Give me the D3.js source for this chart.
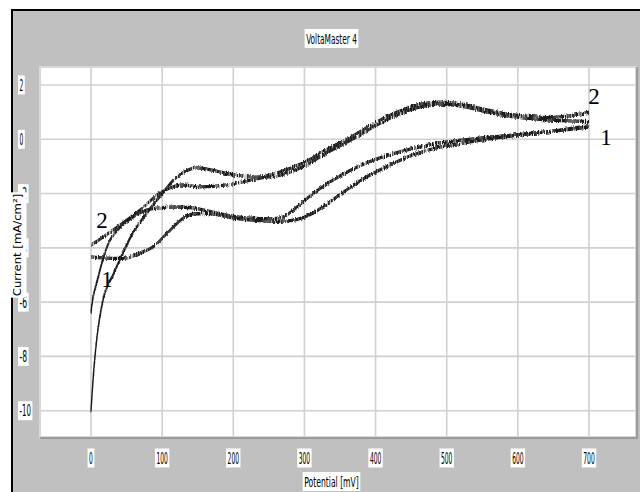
<!DOCTYPE html>
<html>
<head>
<meta charset="utf-8">
<script src="https://cdn.jsdelivr.net/npm/d3@7"></script>
<style>
  html, body { margin: 0; padding: 0; background: #fff; }
  svg { display: block; }
</style>
</head>
<body>
<svg id="chart" width="640" height="492"></svg>
<script>
// Axis ticks
const potentialTicks = [0, 100, 200, 300, 400, 500, 600, 700];
const currentTicks = [2, 0, -2, -4, -6, -8, -10];

// Cyclic voltammetry traces: [potential mV, current mA/cm2]
const sweepA = [[0,-10.0],[2.8,-8.9],[5.6,-8.0],[9.8,-7.0],[14,-6.3],[18,-5.8],[24,-5.35],[31,-5.0],[42,-4.35],[59,-3.45],[79,-2.7],[101,-1.97],[121,-1.38],[143,-1.07],[160,-1.08],[180,-1.2],[205,-1.33],[238,-1.39],[266,-1.2],[300,-0.85],[330,-0.4],[360,0.0],[400,0.62],[430,1.0],[460,1.28],[490,1.37],[520,1.3],[550,1.12],[580,0.95],[610,0.85],[640,0.8],[670,0.85],[700,1.0]];
const sweepB = [[0,-3.9],[17,-3.6],[41,-3.16],[69,-2.61],[97,-1.98],[125,-1.69],[153,-1.75],[191,-1.68],[238,-1.43],[266,-1.32],[300,-0.98],[330,-0.52],[360,-0.1],[400,0.5],[430,0.9],[460,1.18],[490,1.3],[520,1.22],[550,1.05],[580,0.88],[610,0.78],[640,0.72],[670,0.68],[700,0.65]];
const sweepC = [[0,-4.33],[17,-4.37],[51,-4.37],[69,-4.19],[87,-3.97],[107,-3.46],[135,-2.82],[167,-2.74],[200,-2.9],[238,-3.0],[266,-3.02],[290,-2.95],[310,-2.75],[336,-2.3],[360,-1.85],[390,-1.35],[420,-0.95],[450,-0.6],[480,-0.35],[520,-0.15],[560,0.02],[600,0.15],[650,0.3],[700,0.5]];
const sweepD = [[0,-6.4],[3,-5.8],[8,-5.3],[17,-4.4],[27,-3.7],[41,-3.23],[59,-2.86],[79,-2.6],[111,-2.5],[143,-2.53],[167,-2.66],[200,-2.84],[238,-2.92],[266,-2.9],[280,-2.7],[298,-2.3],[320,-1.85],[350,-1.35],[380,-0.95],[410,-0.65],[450,-0.35],[500,-0.1],[550,0.05],[600,0.17],[650,0.3],[700,0.45]];
const sweeps = [sweepA, sweepB, sweepC, sweepD];

// Cycle number annotations: [potential, current, text]
const cycleLabels = [[15.5,-2.98,"2"],[22.5,-5.15,"1"],[707,1.56,"2"],[724,0.05,"1"]];

const svg = d3.select("#chart");

const frame = { left: 40, top: 67, right: 636, bottom: 437 };
const x = d3.scaleLinear().domain([0, 700]).range([91, 589]);
const y = d3.scaleLinear().domain([2, -10]).range([85, 410.7]);

// noisy trace look: vertical jitter, then a small vertical smear
const defs = svg.append("defs");
const f = defs.append("filter").attr("id", "jitter")
  .attr("filterUnits", "userSpaceOnUse")
  .attr("x", 0).attr("y", 0).attr("width", 640).attr("height", 492);
f.append("feTurbulence").attr("type", "fractalNoise")
  .attr("baseFrequency", "0.9").attr("numOctaves", 1).attr("seed", 4).attr("result", "noise");
const ct = f.append("feComponentTransfer").attr("in", "noise").attr("result", "nz");
ct.append("feFuncR").attr("type", "linear").attr("slope", 0).attr("intercept", 0.5);
f.append("feDisplacementMap").attr("in", "SourceGraphic").attr("in2", "nz")
  .attr("scale", 5).attr("xChannelSelector", "R").attr("yChannelSelector", "G").attr("result", "disp");
f.append("feMorphology").attr("in", "disp").attr("operator", "dilate").attr("radius", "0 1");

// window background and frame
svg.append("rect").attr("x", 11).attr("y", 9).attr("width", 629).attr("height", 483).attr("fill", "#000");
svg.append("rect").attr("x", 13).attr("y", 11).attr("width", 627).attr("height", 481).attr("fill", "#c0c0c0");

// plot area
svg.append("rect").attr("x", frame.left).attr("y", frame.top)
  .attr("width", frame.right - frame.left).attr("height", frame.bottom - frame.top)
  .attr("fill", "#fff").attr("stroke", "#d8d8d8").attr("stroke-width", 2);
svg.append("path")
  .attr("d", `M${frame.left},${frame.bottom + 1}H${frame.right + 1}V${frame.top}`)
  .attr("fill", "none").attr("stroke", "#8a8a8a").attr("stroke-width", 1.5);

const grid = svg.append("g").attr("stroke", "#d0d0d0").attr("stroke-width", 1.6);
grid.selectAll("line.v").data(potentialTicks).join("line")
  .attr("x1", d => x(d)).attr("x2", d => x(d))
  .attr("y1", frame.top + 1).attr("y2", frame.bottom - 1);
grid.selectAll("line.h").data(currentTicks).join("line")
  .attr("y1", d => y(d)).attr("y2", d => y(d))
  .attr("x1", frame.left + 1).attr("x2", frame.right - 1);

// boxed condensed labels
const labelFont = "'Liberation Sans Narrow', 'DejaVu Sans Condensed', 'Liberation Sans', sans-serif";
function boxedLabel(g, cx, cy, text, charW, size, rotate) {
  const w = text.length * charW;
  const grp = g.append("g").attr("transform", `translate(${cx},${cy})` + (rotate ? " rotate(-90)" : ""));
  grp.append("rect").attr("x", -w / 2 - 1.5).attr("y", -9.5).attr("width", w + 3).attr("height", 19).attr("fill", "#fff");
  grp.append("text").attr("x", -w / 2).attr("y", size * 0.36)
    .attr("textLength", w).attr("lengthAdjust", "spacingAndGlyphs")
    .attr("font-family", labelFont).attr("font-size", size).attr("fill", "#000")
    .text(text);
}

const labels = svg.append("g");
potentialTicks.forEach(t => boxedLabel(labels, x(t), 458, String(t), 3.8, 16));
currentTicks.forEach(t => {
  const s = String(t);
  const w = s.length * 3.8;
  boxedLabel(labels, 19.5 + w / 2, y(t), s, 3.8, 16);
});
boxedLabel(labels, 331.5, 38.5, "VoltaMaster 4", 3.9, 14);
boxedLabel(labels, 331.5, 481.5, "Potential [mV]", 3.9, 14);
boxedLabel(labels, 17, 245, "Current [mA/cm²]", 6.4, 10, true);

// traces
const line = d3.line().x(d => x(d[0])).y(d => y(d[1])).curve(d3.curveCatmullRom.alpha(0.5));
svg.append("g").attr("filter", "url(#jitter)")
  .selectAll("path").data(sweeps).join("path")
  .attr("d", d => line(d))
  .attr("fill", "none").attr("stroke", "#1e1e1e").attr("stroke-width", 1.3);

// cycle numbers
svg.append("g").selectAll("text").data(cycleLabels).join("text")
  .attr("x", d => x(d[0])).attr("y", d => y(d[1]))
  .attr("text-anchor", "middle").attr("dominant-baseline", "central")
  .attr("font-family", "'Liberation Serif', 'Times New Roman', serif").attr("font-size", 23)
  .attr("fill", "#000")
  .text(d => d[2]);
</script>
</body>
</html>
